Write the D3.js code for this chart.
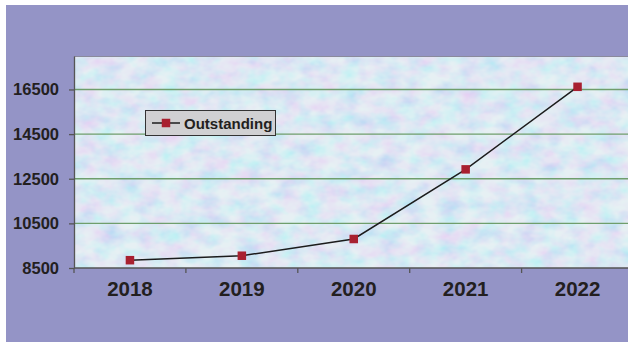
<!DOCTYPE html>
<html>
<head>
<meta charset="utf-8">
<script src="https://cdn.jsdelivr.net/npm/d3@7"></script>
<style>
  html, body { margin: 0; padding: 0; background: #ffffff; }
  svg { display: block; }
</style>
</head>
<body>
<div id="chart"></div>
<script>
// Outstanding amount by year
const years = ["2018", "2019", "2020", "2021", "2022"];
const outstanding = [8850, 9050, 9800, 12920, 16620];
const yTicks = [8500, 10500, 12500, 14500, 16500];
const seriesName = "Outstanding";

const W = 628, H = 343;
const frame = { x: 6, y: 5, w: 622, h: 337 };
const plot = { left: 74, top: 56, right: 633.5, bottom: 268 };

const svg = d3.select("#chart").append("svg")
  .attr("width", W).attr("height", H);

const defs = svg.append("defs");

// Mottled pastel texture for the plot area
const tex = defs.append("filter").attr("id", "mottle")
  .attr("x", 0).attr("y", 0).attr("width", 1).attr("height", 1);
tex.append("feTurbulence").attr("type", "fractalNoise")
  .attr("baseFrequency", "0.05 0.07").attr("numOctaves", 3).attr("seed", 11)
  .attr("result", "noise");
tex.append("feColorMatrix").attr("in", "noise").attr("type", "matrix")
  .attr("values",
    "1.1 0 0 0 0.28  " +
    "0 0.7 0 0 0.52  " +
    "0 0 0 0 0.94  " +
    "0 0 0 0 1")
  .attr("result", "col");
tex.append("feComposite").attr("in", "col").attr("in2", "SourceGraphic").attr("operator", "in");

// Outer panel
svg.append("rect")
  .attr("x", frame.x).attr("y", frame.y)
  .attr("width", frame.w).attr("height", frame.h)
  .attr("fill", "#9494c6");

// Plot background
svg.append("rect")
  .attr("x", plot.left).attr("y", plot.top)
  .attr("width", plot.right - plot.left).attr("height", plot.bottom - plot.top)
  .attr("fill", "#cde1ef");
svg.append("rect")
  .attr("x", plot.left).attr("y", plot.top)
  .attr("width", plot.right - plot.left).attr("height", plot.bottom - plot.top)
  .attr("fill", "#cde1ef")
  .attr("filter", "url(#mottle)")
  .attr("opacity", 0.5);

const x = d3.scaleBand().domain(years).range([plot.left, plot.right]).padding(0);
const y = d3.scaleLinear().domain([8500, 18000]).range([plot.bottom, plot.top]);

// Top border of plot area
svg.append("line")
  .attr("x1", plot.left).attr("x2", plot.right)
  .attr("y1", plot.top + 0.5).attr("y2", plot.top + 0.5)
  .attr("stroke", "#8a8a9c").attr("stroke-width", 1);

// Gridlines
svg.append("g").selectAll("line")
  .data(yTicks.filter(v => v > 8500))
  .join("line")
  .attr("x1", plot.left).attr("x2", plot.right)
  .attr("y1", d => y(d)).attr("y2", d => y(d))
  .attr("stroke", "#6f9e6c").attr("stroke-width", 1.4);

// Y axis
const yAxis = svg.append("g")
  .attr("transform", `translate(${plot.left},0)`)
  .call(d3.axisLeft(y).tickValues(yTicks).tickFormat(d3.format("d"))
    .tickSize(5).tickSizeOuter(0).tickPadding(10));
yAxis.select(".domain").attr("stroke", "#555").attr("stroke-width", 1.3);
yAxis.selectAll(".tick line").attr("stroke", "#555").attr("stroke-width", 1.3);
yAxis.selectAll(".tick text")
  .attr("fill", "#231f20")
  .style("font-family", "Liberation Sans, Arial, sans-serif")
  .style("font-weight", "bold")
  .style("font-size", "16.5px");

// X axis with ticks at category boundaries
const xAxisG = svg.append("g").attr("transform", `translate(0,${plot.bottom})`);
xAxisG.append("line")
  .attr("x1", plot.left).attr("x2", plot.right)
  .attr("y1", 0).attr("y2", 0)
  .attr("stroke", "#555").attr("stroke-width", 1.3);
xAxisG.selectAll("line.tk")
  .data(years)
  .join("line").attr("class", "tk")
  .attr("x1", d => x(d)).attr("x2", d => x(d))
  .attr("y1", 0).attr("y2", 5)
  .attr("stroke", "#555").attr("stroke-width", 1.3);
xAxisG.selectAll("text")
  .data(years)
  .join("text")
  .attr("x", d => x(d) + x.bandwidth() / 2)
  .attr("y", 27.5)
  .attr("text-anchor", "middle")
  .attr("fill", "#231f20")
  .style("font-family", "Liberation Sans, Arial, sans-serif")
  .style("font-weight", "bold")
  .style("font-size", "20.5px")
  .text(d => d);

// Series line
const pts = years.map((yr, i) => ({ yr, v: outstanding[i] }));
svg.append("path")
  .datum(pts)
  .attr("fill", "none")
  .attr("stroke", "#1c1c1c")
  .attr("stroke-width", 1.5)
  .attr("d", d3.line().x(d => x(d.yr) + x.bandwidth() / 2).y(d => y(d.v)));

// Markers
const ms = 8.5;
svg.append("g").selectAll("rect")
  .data(pts)
  .join("rect")
  .attr("x", d => x(d.yr) + x.bandwidth() / 2 - ms / 2)
  .attr("y", d => y(d.v) - ms / 2)
  .attr("width", ms).attr("height", ms)
  .attr("fill", "#a82030");

// Legend
const lg = svg.append("g").attr("transform", "translate(145,110)");
lg.append("rect")
  .attr("x", 0.5).attr("y", 0.5).attr("width", 130).attr("height", 25)
  .attr("fill", "#d0d0d2").attr("stroke", "#333").attr("stroke-width", 1);
lg.append("line")
  .attr("x1", 7).attr("x2", 35).attr("y1", 13).attr("y2", 13)
  .attr("stroke", "#1c1c1c").attr("stroke-width", 1.5);
lg.append("rect")
  .attr("x", 21 - ms / 2).attr("y", 13 - ms / 2)
  .attr("width", ms).attr("height", ms)
  .attr("fill", "#a82030");
lg.append("text")
  .attr("x", 39).attr("y", 18.5)
  .attr("fill", "#231f20")
  .style("font-family", "Liberation Sans, Arial, sans-serif")
  .style("font-weight", "bold")
  .style("font-size", "15px")
  .text(seriesName);
</script>
</body>
</html>
